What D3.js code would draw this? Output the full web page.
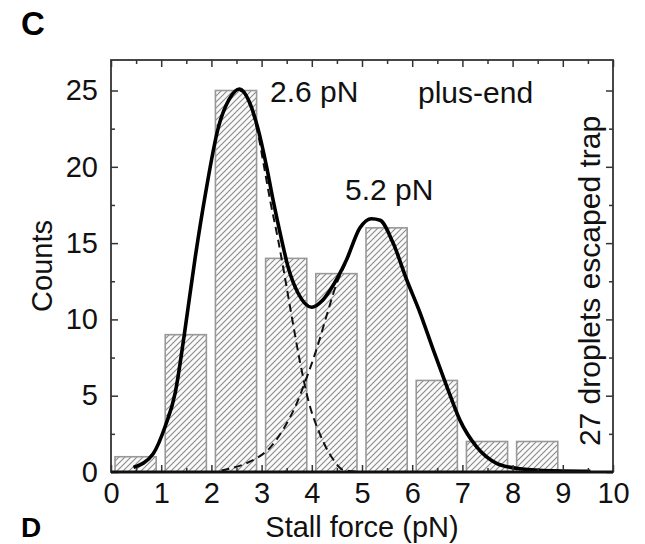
<!DOCTYPE html>
<html lang="en">
<head>
    <meta charset="UTF-8">
    <title>Stall force histogram</title>
    <script src="https://d3js.org/d3.v7.min.js"></script>
    <style>
        body { margin: 0; background: #fff; }
        svg { font-family: "Liberation Sans", Arial, sans-serif; }
        .tick text { fill: #111; }
        .tick line { stroke: #333; stroke-width: 1.5; }
    </style>
</head>
<body>
    <svg id="chart" width="645" height="544"></svg>

    <script>
        // histogram: bins of 1 pN
        const binStart = [0, 1, 2, 3, 4, 5, 6, 7, 8];
        const counts = [1, 9, 25, 14, 13, 16, 6, 2, 2];

        // fitted curves (x in pN, y in counts)
        const fitTotal = [
            [0.45, 0.3], [0.84, 1.2], [1.08, 3.0], [1.28, 5.2], [1.46, 9.0], [1.67, 13.9],
            [1.88, 18.2], [2.14, 22.6], [2.35, 24.4], [2.56, 25.1], [2.75, 24.3], [2.92, 22.6],
            [3.1, 20.0], [3.23, 17.8], [3.4, 15.2], [3.53, 13.4], [3.73, 11.7], [4.0, 10.8],
            [4.2, 11.2], [4.36, 11.9], [4.69, 13.9], [4.96, 16.0], [5.19, 16.6], [5.36, 16.5],
            [5.62, 15.0], [5.89, 12.6], [6.16, 10.4], [6.42, 8.0], [6.69, 5.6], [6.95, 3.4],
            [7.28, 1.66], [7.68, 0.57], [8.08, 0.24], [8.6, 0.1], [9.55, 0.05]
        ];
        const fitPeak1 = [
            [0.45, 0.3], [0.84, 1.2], [1.08, 3.0], [1.28, 5.2], [1.46, 9.0], [1.67, 13.9],
            [1.88, 18.2], [2.14, 22.6], [2.35, 24.4], [2.56, 25.0], [2.75, 24.2], [2.92, 22.3],
            [3.05, 20.0], [3.17, 17.8], [3.33, 15.2], [3.43, 13.4], [3.6, 10.2], [3.76, 7.3],
            [3.93, 4.7], [4.16, 2.5], [4.43, 0.8], [4.63, 0.13], [4.9, 0.02]
        ];
        const fitPeak2 = [
            [2.2, 0.1], [2.64, 0.5], [2.9, 0.9], [3.17, 1.6], [3.45, 2.9], [3.7, 4.5],
            [3.9, 6.2], [4.1, 8.1], [4.3, 10.3], [4.5, 12.4], [4.69, 13.8], [4.96, 16.0],
            [5.19, 16.6], [5.36, 16.5], [5.62, 15.0], [5.89, 12.6], [6.16, 10.4], [6.42, 8.0],
            [6.69, 5.6], [6.95, 3.4], [7.28, 1.66], [7.68, 0.57], [8.08, 0.24], [8.6, 0.1],
            [9.55, 0.05]
        ];

        const xMajor = d3.range(0, 11, 1);
        const xMinor = d3.range(0.5, 10, 1);
        const yMajor = [0, 5, 10, 15, 20, 25];
        const yMinor = [2.5, 7.5, 12.5, 17.5, 22.5];

        const plotLeft = 111, plotRight = 613, plotTop = 60, plotBottom = 472;

        const x = d3.scaleLinear().domain([0, 10]).range([plotLeft, plotRight]);
        const y = d3.scaleLinear().domain([0, 27]).range([plotBottom, plotTop]);

        const svg = d3.select("#chart");

        // hatch pattern for the bars
        const defs = svg.append("defs");
        const pat = defs.append("pattern")
            .attr("id", "hatch")
            .attr("patternUnits", "userSpaceOnUse")
            .attr("width", 6)
            .attr("height", 6);
        pat.append("rect").attr("width", 6).attr("height", 6).attr("fill", "#fafafa");
        pat.append("path")
            .attr("d", "M-1,1 l2,-2 M0,6 l6,-6 M5,7 l2,-2")
            .attr("stroke", "#8a8a8a")
            .attr("stroke-width", 1.1);

        // bars
        svg.append("g")
            .selectAll("rect")
            .data(binStart)
            .enter()
            .append("rect")
            .attr("x", d => x(d + 0.08))
            .attr("width", d => x(d + 0.9) - x(d + 0.08))
            .attr("y", (d, i) => y(counts[i]))
            .attr("height", (d, i) => y(0) - y(counts[i]))
            .attr("fill", "url(#hatch)")
            .attr("stroke", "#999")
            .attr("stroke-width", 1.6);

        const line = d3.line()
            .x(d => x(d[0]))
            .y(d => y(d[1]))
            .curve(d3.curveMonotoneX);

        [fitPeak1, fitPeak2].forEach(pts => {
            svg.append("path")
                .attr("d", line(pts))
                .attr("fill", "none")
                .attr("stroke", "#111")
                .attr("stroke-width", 2)
                .attr("stroke-dasharray", "8,5");
        });

        svg.append("path")
            .attr("d", line(fitTotal))
            .attr("fill", "none")
            .attr("stroke", "#000")
            .attr("stroke-width", 3.6);

        // axes, ticks pointing inward
        function cleanup(g) {
            g.select(".domain").remove();
        }

        svg.append("g")
            .attr("transform", `translate(0,${plotBottom})`)
            .style("font-size", "29px")
            .call(d3.axisBottom(x).tickValues(xMajor).tickSize(-7).tickPadding(10).tickFormat(d3.format("d")))
            .call(cleanup);
        svg.append("g")
            .attr("transform", `translate(0,${plotBottom})`)
            .call(d3.axisBottom(x).tickValues(xMinor).tickSize(-4).tickFormat(""))
            .call(cleanup);
        svg.append("g")
            .attr("transform", `translate(0,${plotTop})`)
            .call(d3.axisTop(x).tickValues(xMajor).tickSize(-7).tickFormat(""))
            .call(cleanup);
        svg.append("g")
            .attr("transform", `translate(0,${plotTop})`)
            .call(d3.axisTop(x).tickValues(xMinor).tickSize(-4).tickFormat(""))
            .call(cleanup);

        svg.append("g")
            .attr("transform", `translate(${plotLeft},0)`)
            .style("font-size", "29px")
            .call(d3.axisLeft(y).tickValues(yMajor).tickSize(-7).tickPadding(13))
            .call(cleanup);
        svg.append("g")
            .attr("transform", `translate(${plotLeft},0)`)
            .call(d3.axisLeft(y).tickValues(yMinor).tickSize(-4).tickFormat(""))
            .call(cleanup);
        svg.append("g")
            .attr("transform", `translate(${plotRight},0)`)
            .call(d3.axisRight(y).tickValues(yMajor).tickSize(-7).tickFormat(""))
            .call(cleanup);
        svg.append("g")
            .attr("transform", `translate(${plotRight},0)`)
            .call(d3.axisRight(y).tickValues(yMinor).tickSize(-4).tickFormat(""))
            .call(cleanup);

        // frame
        svg.append("rect")
            .attr("x", plotLeft).attr("y", plotTop)
            .attr("width", plotRight - plotLeft).attr("height", plotBottom - plotTop)
            .attr("fill", "none")
            .attr("stroke", "#333")
            .attr("stroke-width", 1.8);
        svg.append("line")
            .attr("x1", plotLeft).attr("x2", plotRight)
            .attr("y1", plotBottom).attr("y2", plotBottom)
            .attr("stroke", "#111")
            .attr("stroke-width", 3);

        // labels
        svg.append("text")
            .attr("x", (plotLeft + plotRight) / 2)
            .attr("y", 537)
            .attr("text-anchor", "middle")
            .style("font-size", "29px")
            .attr("fill", "#111")
            .text("Stall force (pN)");

        svg.append("text")
            .attr("transform", `translate(52,${(plotTop + plotBottom) / 2}) rotate(-90)`)
            .attr("text-anchor", "middle")
            .style("font-size", "29px")
            .attr("fill", "#111")
            .text("Counts");

        svg.append("text")
            .attr("transform", "translate(600,281) rotate(-90)")
            .attr("text-anchor", "middle")
            .style("font-size", "30px")
            .attr("fill", "#111")
            .text("27 droplets escaped trap");

        const notes = [
            { t: "2.6 pN", x: 270, y: 102 },
            { t: "plus-end", x: 418, y: 103 },
            { t: "5.2 pN", x: 345, y: 200 }
        ];
        svg.selectAll(".note")
            .data(notes)
            .enter()
            .append("text")
            .attr("class", "note")
            .attr("x", d => d.x)
            .attr("y", d => d.y)
            .style("font-size", "30px")
            .attr("fill", "#111")
            .text(d => d.t);

        // panel letters
        svg.append("text")
            .attr("x", 21).attr("y", 35)
            .style("font-size", "33px").style("font-weight", "bold")
            .text("C");
        svg.append("text")
            .attr("x", 21).attr("y", 537)
            .style("font-size", "28px").style("font-weight", "bold")
            .text("D");
    </script>
</body>
</html>
